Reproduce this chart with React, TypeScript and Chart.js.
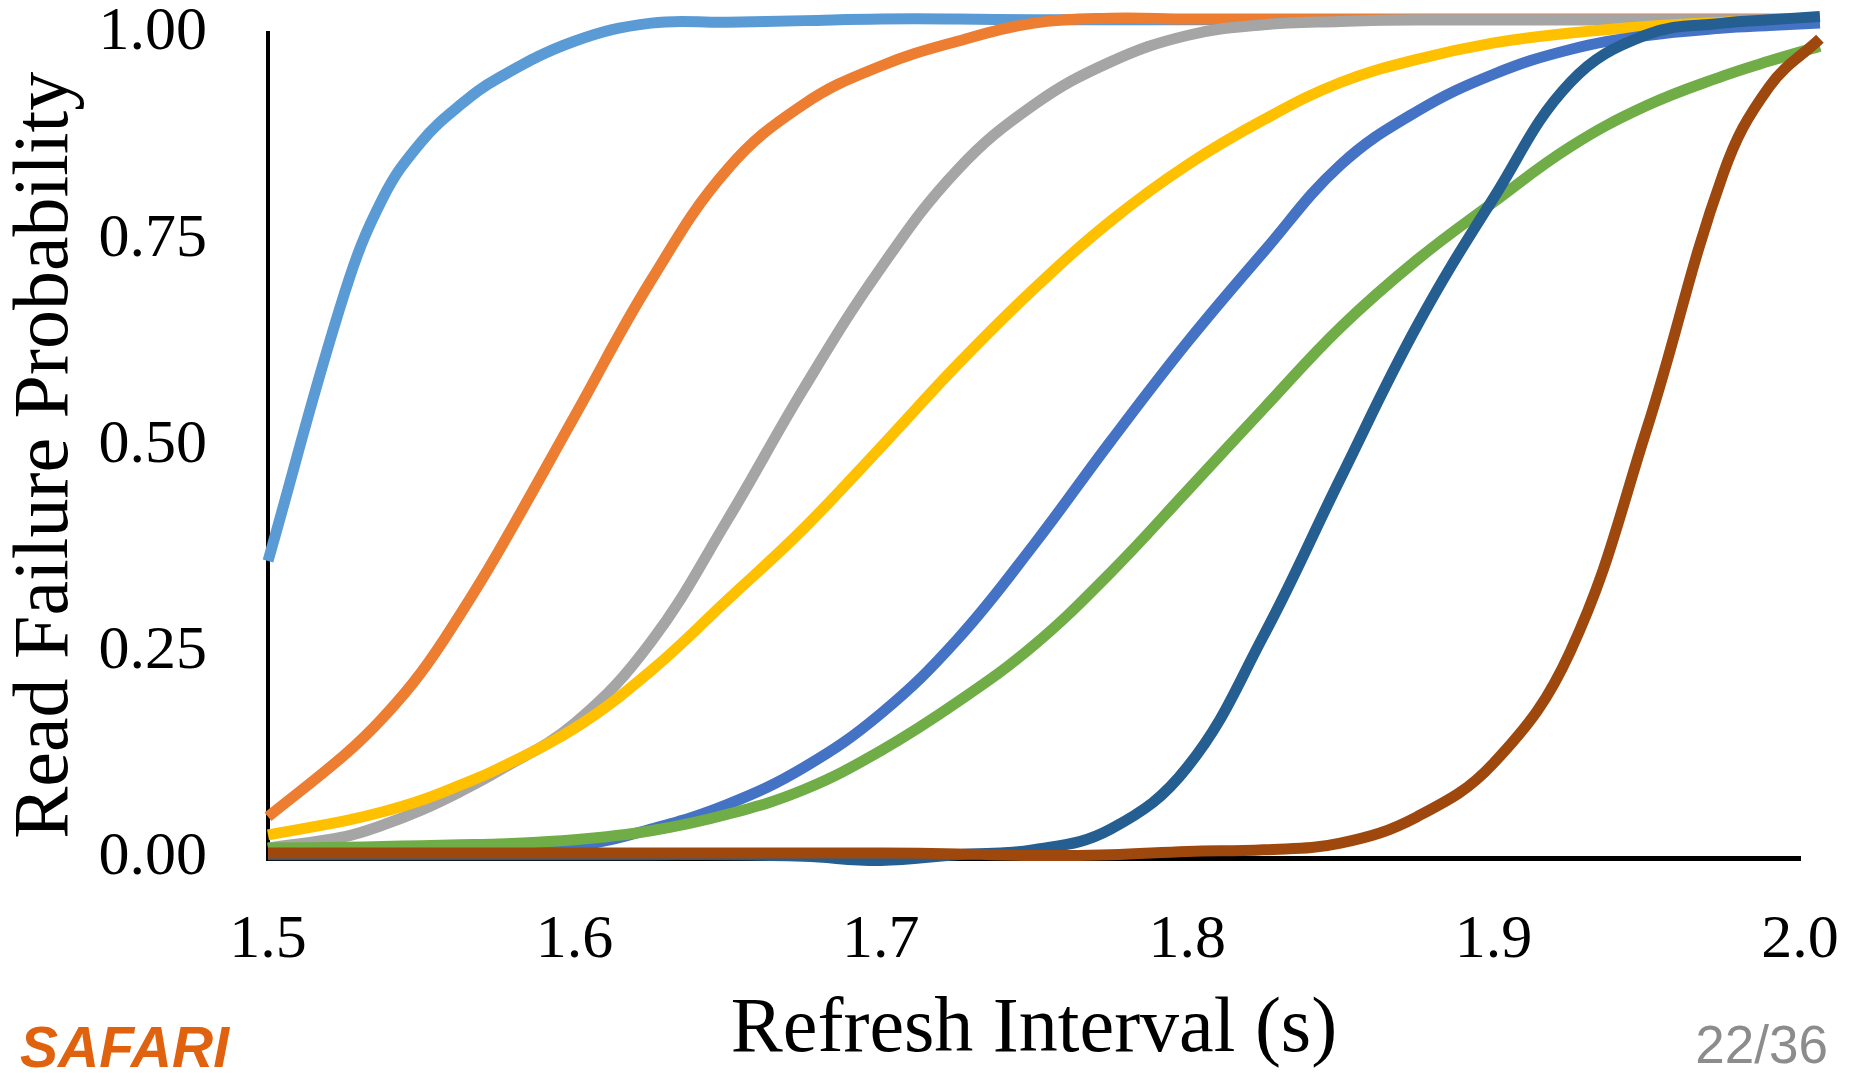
import React, { useEffect, useRef } from "react";
import { Chart, registerables } from "chart.js";

Chart.register(...registerables);

// Refresh interval (s) sample points (the measured curves run just past 2.0)
const refreshIntervals = [
  1.5, 1.525, 1.5375, 1.55, 1.5625, 1.575, 1.6, 1.625, 1.65, 1.675, 1.7,
  1.725, 1.75, 1.775, 1.8, 1.825, 1.85, 1.875, 1.9, 1.925, 1.95, 1.975,
  1.99, 2.0065,
];

// Read failure probability per curve
const curveLightBlue = [
  0.36, 0.685, 0.8, 0.868, 0.912, 0.945, 0.99, 1.012, 1.013, 1.015, 1.017,
  1.017, 1.016, 1.016, 1.016, 1.016, 1.016, 1.016, 1.016, 1.016, 1.016, 1.016,
  1.016, 1.016,
];
const curveOrange = [
  0.05, 0.125, 0.17, 0.225, 0.294, 0.37, 0.535, 0.7, 0.835, 0.914, 0.96,
  0.99, 1.012, 1.018, 1.017, 1.017, 1.017, 1.017, 1.017, 1.017, 1.017, 1.017,
  1.017, 1.017,
];
const curveGray = [
  0.012, 0.026, 0.04, 0.058, 0.08, 0.105, 0.163, 0.262, 0.41, 0.57, 0.715,
  0.834, 0.913, 0.965, 0.997, 1.01, 1.014, 1.016, 1.016, 1.016, 1.016, 1.016,
  1.016, 1.016,
];
const curveYellow = [
  0.028, 0.045, 0.056, 0.07, 0.088, 0.108, 0.157, 0.227, 0.313, 0.4, 0.498,
  0.598, 0.69, 0.772, 0.84, 0.895, 0.94, 0.968, 0.988, 1.0, 1.008, 1.013,
  1.015, 1.017,
];
const curveBlue = [
  0.005, 0.005, 0.005, 0.006, 0.007, 0.008, 0.014, 0.035, 0.065, 0.11, 0.175,
  0.265, 0.38, 0.505, 0.625, 0.735, 0.84, 0.905, 0.95, 0.98, 0.997, 1.006,
  1.009, 1.012,
];
const curveGreen = [
  0.012, 0.013, 0.014, 0.015, 0.016, 0.017, 0.022, 0.033, 0.053, 0.083, 0.13,
  0.189, 0.258, 0.346, 0.445, 0.545, 0.643, 0.725, 0.795, 0.862, 0.912, 0.948,
  0.966, 0.984,
];
const curveDarkBlue = [
  0.004, 0.004, 0.004, 0.004, 0.004, 0.004, 0.004, 0.004, 0.004, 0.002, -0.003,
  0.004, 0.01, 0.035, 0.11, 0.27, 0.46, 0.645, 0.8, 0.94, 0.998, 1.012,
  1.016, 1.02,
];
const curveBrown = [
  0.006, 0.006, 0.006, 0.006, 0.006, 0.006, 0.006, 0.006, 0.006, 0.006, 0.006,
  0.005, 0.003, 0.004, 0.008, 0.01, 0.018, 0.05, 0.115, 0.25, 0.52, 0.83,
  0.935, 0.993,
];

const seriesColors = [
  "#5B9BD5", "#ED7D31", "#A5A5A5", "#FFC000",
  "#4472C4", "#70AD47", "#255E91", "#9E480E",
];
const seriesValues = [
  curveLightBlue, curveOrange, curveGray, curveYellow,
  curveBlue, curveGreen, curveDarkBlue, curveBrown,
];

const xTickValues = [1.5, 1.6, 1.7, 1.8, 1.9, 2.0];
const yTickValues = [0, 0.25, 0.5, 0.75, 1.0];

const W = 1856;
const H = 1073;

export default function App() {
  const ref = useRef<HTMLCanvasElement>(null);

  useEffect(() => {
    if (!ref.current) return;
    const n = seriesValues.length;
    const chart = new Chart(ref.current, {
      type: "line",
      data: {
        datasets: seriesValues.map((vals, i) => ({
          label: "Series " + (i + 1),
          data: refreshIntervals.map((x, j) => ({ x, y: vals[j] })),
          borderColor: seriesColors[i],
          backgroundColor: seriesColors[i],
          borderWidth: 11,
          pointRadius: 0,
          pointHoverRadius: 0,
          fill: false,
          tension: 0.4,
          clip: false as any,
          order: n - i,
        })),
      },
      options: {
        animation: false,
        responsive: false,
        maintainAspectRatio: false,
        events: [],
        layout: { autoPadding: false, padding: { top: 33, right: 56, left: 0, bottom: 0 } },
        elements: { line: { capBezierPoints: false, borderCapStyle: "butt" } },
        plugins: {
          legend: { display: false },
          tooltip: { enabled: false },
        },
        scales: {
          x: {
            type: "linear",
            min: 1.5,
            max: 2.0,
            grid: { display: false, drawTicks: false },
            border: { display: true, color: "#000", width: 5 },
            afterBuildTicks: (s: any) => {
              s.ticks = xTickValues.map((v) => ({ value: v }));
            },
            ticks: {
              padding: 46,
              color: "#000",
              maxRotation: 0,
              autoSkip: false,
              font: { family: "Liberation Serif", size: 62, lineHeight: 1.2 },
              callback: (v: any) => Number(v).toFixed(1),
            },
            title: {
              display: true,
              text: "Refresh Interval (s)",
              color: "#000",
              padding: 0,
              font: { family: "Liberation Serif", size: 78, lineHeight: 1.1 },
            },
            afterFit: (s: any) => {
              s.height = 215;
              s.paddingLeft = 0;
              s.paddingRight = 0;
              s.paddingTop = 0;
              s.paddingBottom = 0;
            },
          },
          y: {
            type: "linear",
            min: 0,
            max: 1,
            grid: { display: false, drawTicks: false },
            border: { display: true, color: "#000", width: 4 },
            afterBuildTicks: (s: any) => {
              s.ticks = yTickValues.map((v) => ({ value: v }));
            },
            ticks: {
              padding: 61,
              color: "#000",
              font: { family: "Liberation Serif", size: 62, lineHeight: 1.0 },
              callback: (v: any) => Number(v).toFixed(2),
            },
            title: {
              display: true,
              text: "Read Failure Probability ",
              color: "#000",
              padding: 0,
              font: { family: "Liberation Serif", size: 78, lineHeight: 1.2 },
            },
            afterFit: (s: any) => {
              s.width = 268;
              s.paddingLeft = 0;
              s.paddingRight = 0;
              s.paddingTop = 0;
              s.paddingBottom = 0;
            },
          },
        },
      },
    });
    return () => chart.destroy();
  }, []);

  return (
    <div
      style={{
        position: "fixed",
        left: 0,
        top: 0,
        width: W,
        height: H,
        background: "#fff",
        overflow: "hidden",
      }}
    >
      <canvas
        ref={ref}
        width={W}
        height={H}
        style={{ display: "block", width: W, height: H }}
      />
      <div
        style={{
          position: "absolute",
          left: 20,
          top: 1019,
          fontFamily: "'Liberation Sans', Arial, sans-serif",
          fontWeight: "bold",
          fontStyle: "italic",
          fontSize: 57,
          lineHeight: 1,
          color: "#E0620F",
          whiteSpace: "nowrap",
        }}
      >
        SAFARI
      </div>
      <div
        style={{
          position: "absolute",
          right: 28,
          top: 1018,
          fontFamily: "'Liberation Sans', Arial, sans-serif",
          fontSize: 53,
          lineHeight: 1,
          color: "#8C8C8C",
          whiteSpace: "nowrap",
        }}
      >
        22/36
      </div>
    </div>
  );
}
